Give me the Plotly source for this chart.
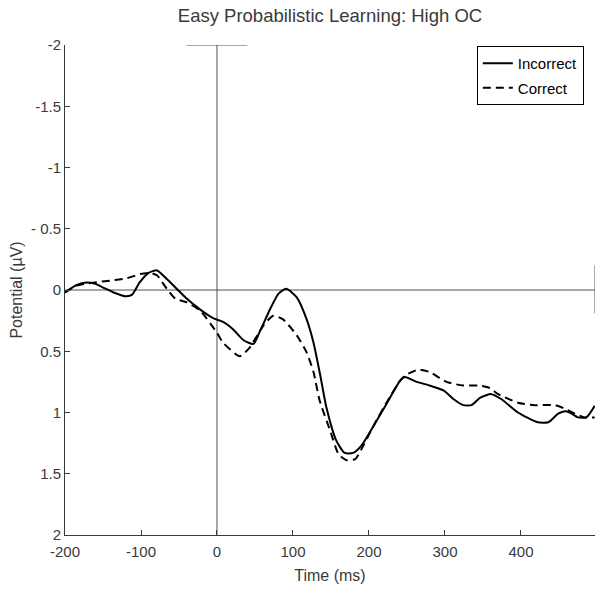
import plotly.graph_objects as go

# Incorrect (solid)
t_incorrect = [-200, -185, -174, -160, -150, -136, -121, -112, -102, -90, -79, -66, -53, -40, -22, -5,
               8, 21, 35, 48, 57, 70, 81, 91, 105, 118, 127, 136, 144, 157, 168, 179, 190, 205, 223,
               241, 247, 263, 280, 298, 311, 324, 335, 346, 361, 374, 396, 422, 436, 449, 458, 464,
               475, 486, 497]
v_incorrect = [0.02, -0.04, -0.06, -0.05, -0.02, 0.02, 0.05, 0.04, -0.06, -0.14, -0.16, -0.09, -0.01,
               0.07, 0.16, 0.23, 0.26, 0.32, 0.41, 0.44, 0.33, 0.155, 0.03, -0.01, 0.06, 0.24, 0.43,
               0.70, 0.96, 1.23, 1.33, 1.33, 1.27, 1.12, 0.93, 0.74, 0.71, 0.75, 0.78, 0.82, 0.89,
               0.94, 0.94, 0.88, 0.85, 0.89, 1.0, 1.08, 1.08, 1.01, 0.99, 1.0, 1.04, 1.04, 0.945]

# Correct (dashed)
t_correct = [-200, -185, -163, -141, -119, -101, -88, -79, -66, -55, -40, -22, 0, 8, 30, 43, 61, 74,
             87, 105, 118, 127, 135, 149, 160, 171, 182, 190, 205, 223, 241, 247, 265, 280, 302, 324,
             346, 359, 370, 396, 418, 445, 458, 471, 484, 497]
v_correct = [0.02, -0.035, -0.06, -0.076, -0.095, -0.13, -0.14, -0.12, -0.01, 0.07, 0.10, 0.17, 0.35,
             0.43, 0.54, 0.47, 0.29, 0.21, 0.24, 0.37, 0.51, 0.67, 0.90, 1.15, 1.34, 1.39, 1.38, 1.30,
             1.12, 0.92, 0.74, 0.70, 0.65, 0.67, 0.75, 0.78, 0.78, 0.80, 0.85, 0.92, 0.94, 0.94, 0.97,
             1.01, 1.04, 1.04]

x_ticks = [-200, -100, 0, 100, 200, 300, 400]
y_ticks = [-2, -1.5, -1, -0.5, 0, 0.5, 1, 1.5, 2]
y_ticklabels = ["-2", "-1.5", "-1", "- 0.5", "0", "0.5", "1", "1.5", "2"]

X_RANGE = [-200, 497.4]
Y_RANGE = [2, -2]

FONT = "Liberation Sans, Arial, sans-serif"
GREY = "#3a3a3a"

fig = go.Figure()
fig.add_trace(go.Scatter(x=t_incorrect, y=v_incorrect, mode="lines", name="Incorrect", legendgroup="a",
                         line=dict(color="black", width=2, shape="spline", smoothing=0.6)))
fig.add_trace(go.Scatter(x=t_correct, y=v_correct, mode="lines", name="Correct", legendgroup="b",
                         line=dict(color="black", width=2, dash="8px,5px", shape="spline", smoothing=0.6)))

line_col = "#505050"
fig.add_shape(type="line", x0=X_RANGE[0], x1=X_RANGE[1], y0=0, y1=0,
              line=dict(color=line_col, width=1), layer="below")
fig.add_shape(type="line", x0=0, x1=0, y0=-2, y1=2, line=dict(color=line_col, width=1), layer="below")
fig.add_shape(type="line", x0=-40, x1=40, y0=-2, y1=-2, line=dict(color=line_col, width=1), layer="below")
fig.add_shape(type="line", xref="paper", x0=0.999, x1=0.999, y0=-0.2, y1=0.19,
              line=dict(color="#aaaaaa", width=1), layer="below")

fig.update_layout(
    width=595, height=592,
    margin=dict(l=65, r=0, t=45, b=57),
    paper_bgcolor="white", plot_bgcolor="white",
    font=dict(family=FONT, size=15, color=GREY),
    title=dict(text="Easy Probabilistic Learning: High OC", x=0.5, xref="paper", xanchor="center",
               y=1 - 16 / 592, yref="container", yanchor="middle",
               font=dict(family=FONT, size=18.5, color=GREY)),
    showlegend=True,
    legend=dict(x=0.777, y=0.998, xanchor="left", yanchor="top", bgcolor="white",
                bordercolor="black", borderwidth=1, font=dict(family=FONT, size=15, color="black"),
                traceorder="grouped", tracegroupgap=2, itemwidth=30),
    xaxis=dict(range=X_RANGE, tickvals=x_ticks, ticktext=[str(v) for v in x_ticks],
               showgrid=False, zeroline=False, showline=True, linecolor=GREY, linewidth=1,
               ticks="inside", ticklen=5, tickcolor=GREY, mirror=False, ticklabelstandoff=3,
               tickfont=dict(family=FONT, size=15, color=GREY),
               title=dict(text="Time (ms)", standoff=10, font=dict(family=FONT, size=16, color=GREY))),
    yaxis=dict(range=Y_RANGE, tickvals=y_ticks, ticktext=y_ticklabels,
               showgrid=False, zeroline=False, showline=True, linecolor=GREY, linewidth=1,
               ticks="inside", ticklen=5, tickcolor=GREY, mirror=False,
               tickfont=dict(family=FONT, size=15, color=GREY),
               title=dict(text="Potential (µV)", standoff=4, font=dict(family=FONT, size=16, color=GREY))),
)

fig.write_html("out.html")
